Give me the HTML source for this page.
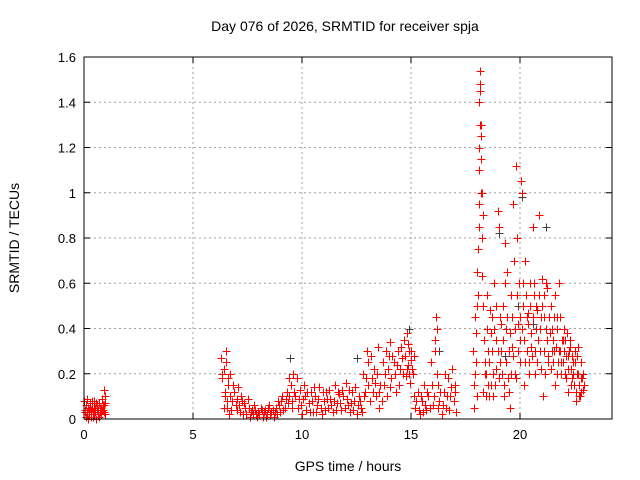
<!DOCTYPE html>
<html><head><meta charset="utf-8"><style>
body{margin:0;background:#fff;}
svg{display:block;font-family:"Liberation Sans",sans-serif;font-size:13px;}
</style></head><body>
<svg id="chart" width="640" height="480" viewBox="0 0 640 480">
<text x="345" y="31" text-anchor="middle" font-size="14">Day 076 of 2026, SRMTID for receiver spja</text>
<text x="348" y="471" text-anchor="middle" font-size="14">GPS time / hours</text>
<text transform="translate(19,238) rotate(-90)" text-anchor="middle" font-size="14">SRMTID / TECUs</text>
<g id="grid"></g>
<g id="ticks"></g>
<g id="marks"></g>
<rect x="84" y="57" width="528" height="362" fill="none" stroke="#000" stroke-width="1"/>
</svg>
<script>
const xTicks=[0,5,10,15,20];
const yTicks=[0,0.2,0.4,0.6,0.8,1,1.2,1.4,1.6];
const yTickLabels=["0","0.2","0.4","0.6","0.8","1","1.2","1.4","1.6"];
const hours=[
0.02,0.05,0.08,0.1,0.14,0.18,0.2,0.24,0.28,0.3,0.34,0.38,0.4,0.44,0.48,0.5,0.54,0.58,0.6,0.64,0.68,0.7,0.74,0.78,0.8,0.84,0.88,0.9,0.94,0.96,0.98,
6.3,6.35,6.4,6.45,6.5,6.55,6.6,6.65,6.7,6.8,6.9,7.0,7.05,7.1,7.2,7.3,7.35,7.4,7.5,7.6,7.7,7.8,7.9,8.0,8.1,8.2,8.3,8.4,8.5,8.6,8.7,8.8,8.9,9.0,9.1,9.2,9.3,
9.4,9.5,9.55,9.6,9.7,9.8,9.9,10.0,10.05,10.1,10.2,10.3,10.4,10.5,10.6,10.7,10.8,10.9,11.0,11.1,11.2,11.3,11.4,11.5,11.6,11.7,11.8,11.9,12.0,12.1,12.2,12.3,12.4,12.5,12.6,12.7,
12.8,12.9,13.0,13.05,13.1,13.2,13.3,13.4,13.5,13.55,13.6,13.7,13.8,13.9,14.0,14.05,14.1,14.2,14.3,14.4,14.5,14.6,14.7,14.75,14.8,14.85,14.9,14.95,15.0,15.1,15.15,
15.2,15.3,15.4,15.5,15.6,15.7,15.8,15.9,16.0,16.1,16.15,16.2,16.25,16.3,16.4,16.5,16.6,16.7,16.8,16.9,17.0,17.05,
17.85,17.9,17.95,18.0,18.02,18.05,18.08,18.1,18.12,18.14,18.16,18.18,18.2,18.22,18.25,18.28,18.3,18.35,18.4,
18.5,18.55,18.6,18.7,18.75,18.8,18.9,19.0,19.05,19.1,19.2,19.25,19.3,19.35,19.4,19.5,19.55,19.6,19.7,19.75,19.8,19.85,19.9,19.95,20.0,20.05,20.1,20.15,20.2,20.25,20.3,20.4,20.45,20.5,20.6,20.65,20.7,20.8,20.85,20.9,21.0,21.05,21.1,21.2,21.3,21.4,21.5,21.6,21.7,21.8,21.85,21.9,22.0,22.1,22.2,22.3,22.35,22.4,22.5,22.55,22.6,22.7,22.75,22.8,22.9,
18.45,18.65,18.85,19.15,19.45,19.65,20.35,20.55,20.75,20.95,21.15,21.25,21.45,21.55,21.65,21.75,21.95,22.05,22.15,22.25,22.45,22.65,22.85
];
const tecu=[
0.08,0.03,0.01,0.06,0.02,0.05,0.0,0.04,0.07,0.02,0.01,0.05,0.03,0.08,0.02,0.05,0.0,0.04,0.06,0.02,0.01,0.07,0.03,0.05,0.02,0.09,0.04,0.13,0.06,0.02,0.1,
0.27,0.18,0.22,0.1,0.3,0.05,0.15,0.02,0.2,0.08,0.12,0.04,0.14,0.06,0.1,0.02,0.07,0.05,0.09,0.01,0.04,0.06,0.02,0.03,0.05,0.01,0.04,0.02,0.06,0.03,0.01,0.05,0.08,0.03,0.1,0.05,0.12,
0.18,0.15,0.08,0.2,0.1,0.05,0.13,0.02,0.09,0.15,0.04,0.07,0.12,0.03,0.1,0.06,0.14,0.02,0.08,0.12,0.05,0.09,0.03,0.15,0.07,0.11,0.04,0.1,0.16,0.06,0.03,0.12,0.08,0.02,0.1,0.05,
0.2,0.12,0.3,0.25,0.08,0.18,0.22,0.1,0.32,0.05,0.15,0.25,0.2,0.1,0.28,0.34,0.18,0.25,0.12,0.3,0.22,0.27,0.35,0.19,0.38,0.24,0.3,0.16,0.26,0.2,0.1,
0.05,0.12,0.02,0.08,0.15,0.04,0.1,0.25,0.06,0.3,0.45,0.4,0.15,0.08,0.02,0.12,0.05,0.18,0.1,0.22,0.15,0.03,
0.3,0.05,0.45,0.25,0.1,0.65,0.75,0.95,1.2,1.4,1.54,1.48,1.3,1.15,1.0,0.9,0.5,0.35,0.2,
0.55,0.3,0.1,0.45,0.2,0.6,0.35,0.92,0.85,0.25,0.5,0.1,0.78,0.4,0.65,0.3,0.05,0.55,0.95,0.2,1.12,0.8,0.42,0.6,0.35,1.05,1.0,0.5,0.15,0.7,0.45,0.25,0.6,0.38,0.85,0.55,0.2,0.48,0.9,0.3,0.62,0.1,0.55,0.4,0.25,0.5,0.35,0.15,0.45,0.6,0.3,0.2,0.4,0.28,0.12,0.35,0.22,0.18,0.3,0.08,0.2,0.15,0.1,0.25,0.13,
0.2,0.38,0.15,0.42,0.18,0.32,0.47,0.28,0.4,0.45,0.2,0.58,0.3,0.45,0.32,0.25,0.35,0.2,0.38,0.3,0.25,0.32,0.18
];
const extraHours=[
0.03,0.07,0.12,0.16,0.22,0.26,0.32,0.36,0.42,0.46,0.52,0.56,0.62,0.66,0.72,0.76,0.82,0.86,0.92,0.97,
6.32,6.42,6.48,6.52,6.58,6.62,6.68,6.75,6.85,6.95,7.02,7.15,7.25,7.45,7.55,7.65,7.75,7.85,7.95,8.05,8.15,8.25,8.35,8.45,8.55,8.65,8.75,8.85,8.95,9.05,9.15,9.25,9.35,
9.42,9.52,9.62,9.75,9.85,9.95,10.15,10.25,10.35,10.45,10.55,10.65,10.75,10.85,10.95,11.05,11.15,11.25,11.35,11.45,11.55,11.65,11.75,11.85,11.95,12.05,12.15,12.25,12.35,12.45,12.55,12.65,12.75,
12.85,12.95,13.02,13.15,13.25,13.35,13.45,13.52,13.65,13.75,13.85,13.95,14.02,14.15,14.25,14.35,14.45,14.55,14.65,14.72,14.82,14.88,14.92,14.98,15.05,15.12,
15.25,15.35,15.45,15.55,15.65,15.75,15.85,15.95,16.05,16.12,16.18,16.22,16.35,16.45,16.55,16.65,16.75,16.85,16.95,17.02,
17.88,17.92,17.98,18.04,18.06,18.1,18.13,18.15,18.17,18.19,18.21,18.24,18.26,18.32,18.38,
18.42,18.48,18.52,18.58,18.62,18.68,18.72,18.78,18.82,18.88,18.92,18.98,19.02,19.08,19.12,19.18,19.22,19.28,19.32,19.38,19.42,19.48,19.52,19.58,19.62,19.68,19.72,19.78,19.82,19.88,19.92,19.98,20.02,20.08,20.12,20.18,20.22,20.28,20.32,20.38,20.42,20.48,20.52,20.58,20.62,20.68,20.72,20.78,20.82,20.88,20.92,20.98,21.02,21.08,21.12,21.18,21.22,21.28,21.32,21.38,21.42,21.48,21.52,21.58,21.62,21.68,21.72,21.78,21.82,21.88,21.92,21.98,22.02,22.08,22.12,22.18,22.22,22.28,22.32,22.38,22.42,22.48,22.52,22.58,22.62,22.68,22.72,22.78,22.82,22.88,22.92
];
const extraTecu=[
0.04,0.06,0.03,0.09,0.02,0.05,0.04,0.08,0.01,0.05,0.03,0.07,0.04,0.03,0.05,0.02,0.04,0.06,0.03,0.07,
0.2,0.05,0.12,0.25,0.08,0.18,0.1,0.04,0.15,0.06,0.09,0.03,0.08,0.02,0.05,0.03,0.02,0.04,0.01,0.02,0.04,0.03,0.01,0.05,0.02,0.04,0.03,0.02,0.06,0.08,0.04,0.09,0.07,
0.1,0.05,0.12,0.18,0.09,0.06,0.1,0.12,0.03,0.08,0.14,0.03,0.09,0.05,0.12,0.04,0.09,0.13,0.06,0.08,0.04,0.12,0.07,0.13,0.05,0.09,0.13,0.07,0.04,0.14,0.06,0.08,0.03,
0.1,0.18,0.15,0.28,0.12,0.16,0.2,0.12,0.08,0.15,0.3,0.22,0.14,0.28,0.2,0.24,0.15,0.32,0.2,0.28,0.22,0.33,0.2,0.3,0.22,0.28,
0.08,0.04,0.1,0.03,0.06,0.12,0.05,0.15,0.1,0.35,0.2,0.05,0.12,0.06,0.2,0.1,0.04,0.14,0.08,0.12,
0.15,0.2,0.38,0.5,0.55,0.85,1.1,1.3,1.45,1.25,1.0,0.8,0.63,0.12,0.25,
0.1,0.4,0.15,0.25,0.48,0.15,0.3,0.1,0.4,0.22,0.5,0.3,0.18,0.45,0.3,0.2,0.35,0.15,0.6,0.25,0.45,0.12,0.38,0.2,0.45,0.28,0.7,0.4,0.18,0.55,0.3,0.45,0.25,0.4,0.6,0.35,0.25,0.55,0.3,0.42,0.2,0.5,0.32,0.45,0.6,0.3,0.5,0.25,0.35,0.55,0.4,0.22,0.5,0.3,0.45,0.6,0.35,0.28,0.45,0.38,0.22,0.4,0.25,0.3,0.55,0.4,0.2,0.3,0.45,0.25,0.35,0.25,0.3,0.35,0.18,0.28,0.22,0.32,0.15,0.28,0.2,0.15,0.25,0.12,0.28,0.2,0.1,0.18,0.12,0.2,0.15
];
const grayHours=[9.45,12.5,20.1,19.3,16.3,19.05,20.6,21.2,22.5,14.9,18.2,19.9];
const grayTecu=[0.27,0.27,0.98,0.28,0.3,0.82,0.42,0.85,0.3,0.4,1.3,0.5];
const X0=84,X1=612,Y0=419,Y1=57,XMAX=24.22,YMAX=1.6;
const sx=h=>X0+(X1-X0)*h/XMAX;
const sy=v=>Y0-(Y0-Y1)*v/YMAX;
const NS="http://www.w3.org/2000/svg";
const grid=document.getElementById('grid'),ticks=document.getElementById('ticks'),marks=document.getElementById('marks');
function mk(tag,attrs,parent){const e=document.createElementNS(NS,tag);for(const k in attrs)e.setAttribute(k,attrs[k]);parent.appendChild(e);return e;}
xTicks.forEach((t,i)=>{const x=sx(t);
 if(t>0){const g=mk('line',{x1:x,x2:x,y1:Y1,y2:Y0,stroke:'#a0a0a0','stroke-dasharray':'2,3'},grid);
 
 }
 const tk=mk('path',{d:`M${x},${Y0}v-6M${x},${Y1}v6`,stroke:'#000'},ticks);
 
 
 const lb=mk('text',{x:x,y:Y0+20,'text-anchor':'middle'},ticks);lb.textContent=String(t);
 
 });
yTicks.forEach((t,i)=>{const y=sy(t);
 if(t>0&&t<YMAX){const g=mk('line',{x1:X0,x2:X1,y1:y,y2:y,stroke:'#a0a0a0','stroke-dasharray':'2,3'},grid);
 
 }
 const tk=mk('path',{d:`M${X0},${y}h6M${X1},${y}h-6`,stroke:'#000'},ticks);
 
 
 const lb=mk('text',{x:X0-8,y:y+5,'text-anchor':'end'},ticks);lb.textContent=yTickLabels[i];
 
 });
function plus(h,v,c){const x=Math.round(sx(h))+0.5,y=Math.round(sy(v))+0.5;
 return mk('path',{d:`M${x-4},${y}h8M${x},${y-4}v8`,stroke:c,'stroke-width':1,fill:'none'},marks);}
grayHours.forEach((h,i)=>{const p=plus(h,grayTecu[i],'#404040');
 
 });
hours.forEach((h,i)=>{const p=plus(h,tecu[i],'#ff0000');
 
 });
extraHours.forEach((h,i)=>{const p=plus(h,extraTecu[i],'#ff0000');
 
 });
</script>
</body></html>
